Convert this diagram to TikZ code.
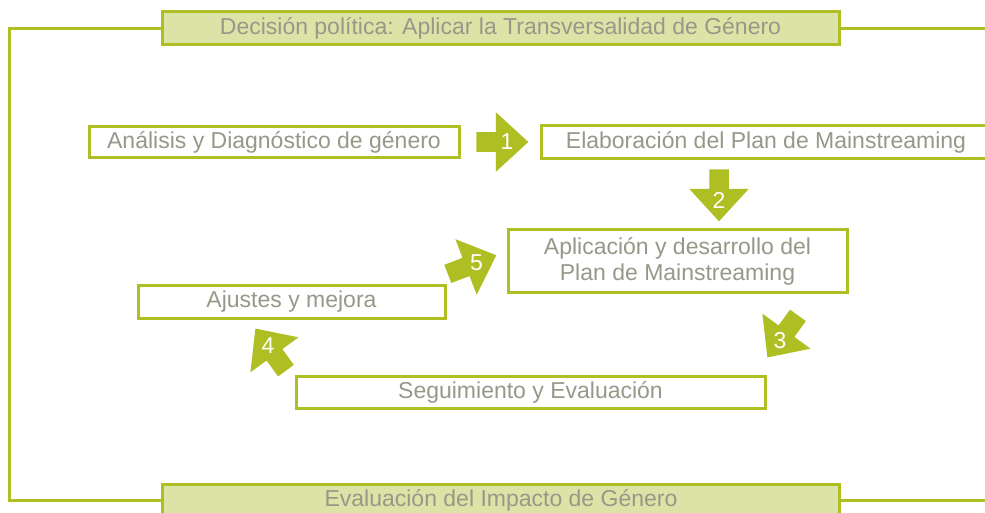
\documentclass[tikz,border=0pt]{standalone}
\usepackage{fontspec}
\setmainfont{Liberation Sans}
\usetikzlibrary{shapes.arrows}

\definecolor{mgreen}{RGB}{174,190,35}
\definecolor{mlight}{RGB}{220,227,166}
\definecolor{mgray}{RGB}{152,152,136}

\tikzset{
  box/.style={draw=mgreen, line width=3pt, fill=white, text=mgray, inner sep=0pt,
    align=center, font=\fontsize{23}{26}\selectfont},
  bar/.style={box, fill=mlight},
  frame/.style={draw=mgreen, line width=3pt},
  blockarrow/.style={single arrow, shape border uses incircle, fill=mgreen,
    inner sep=6.7pt, single arrow head extend=20pt, single arrow tip angle=85,
    minimum height=52pt, shape border rotate=#1},
  number/.style={text=white, inner sep=0pt, font=\fontsize{23}{26}\selectfont, shift={(#1:10pt)}}
}

\begin{document}
\begin{tikzpicture}[x=1pt,y=-1pt]
\useasboundingbox (0,0) rectangle (985,513);
\clip (0,0) rectangle (985,513);
\coordinate (leftedge) at (9,0);
\coordinate (rightedge) at (995,0);

% boxes
\node[bar, minimum width=677pt, minimum height=33pt] (decision) at (500.5,28.5) {Decisión política: Aplicar la Transversalidad de Género};
\node[box, minimum width=370pt, minimum height=31pt] (analisis) at (274,142.5) {Análisis y Diagnóstico de género};
\node[box, minimum width=450pt, minimum height=33pt] (elaboracion) at (766,142.5) {Elaboración del Plan de Mainstreaming};
\node[box, minimum width=339pt, minimum height=62pt] (aplicacion) at (677.5,261) {Aplicación y desarrollo del\\Plan de Mainstreaming};
\node[box, minimum width=307pt, minimum height=33pt] (ajustes) at (291.5,301.5) {Ajustes y mejora};
\node[box, minimum width=469pt, minimum height=32pt] (seguimiento) at (530.5,392) {Seguimiento y Evaluación};
\node[bar, minimum width=677pt, minimum height=33pt] (impacto) at (501,500.5) {Evaluación del Impacto de Género};

% frame round the cycle
\draw[frame] (decision.west) -- (decision.west -| leftedge) |- (impacto.west);
\draw[frame] (decision.east) -- (decision.east -| rightedge);
\draw[frame] (impacto.east) -- (impacto.east -| rightedge);

% numbered arrows
\node[blockarrow=0, label={[number=0]center:1}] (flecha1) at (497,142) {};
\node[blockarrow=270, label={[number=270]center:2}] (flecha2) at (719,190) {};
\node[blockarrow=234, label={[number=234]center:3}] (flecha3) at (785.8,332.1) {};
\node[blockarrow=126, label={[number=126]center:4}] (flecha4) at (273.8,353.9) {};
\node[blockarrow=21, label={[number=21]center:5}] (flecha5) at (467.1,266.5) {};
\end{tikzpicture}
\end{document}
